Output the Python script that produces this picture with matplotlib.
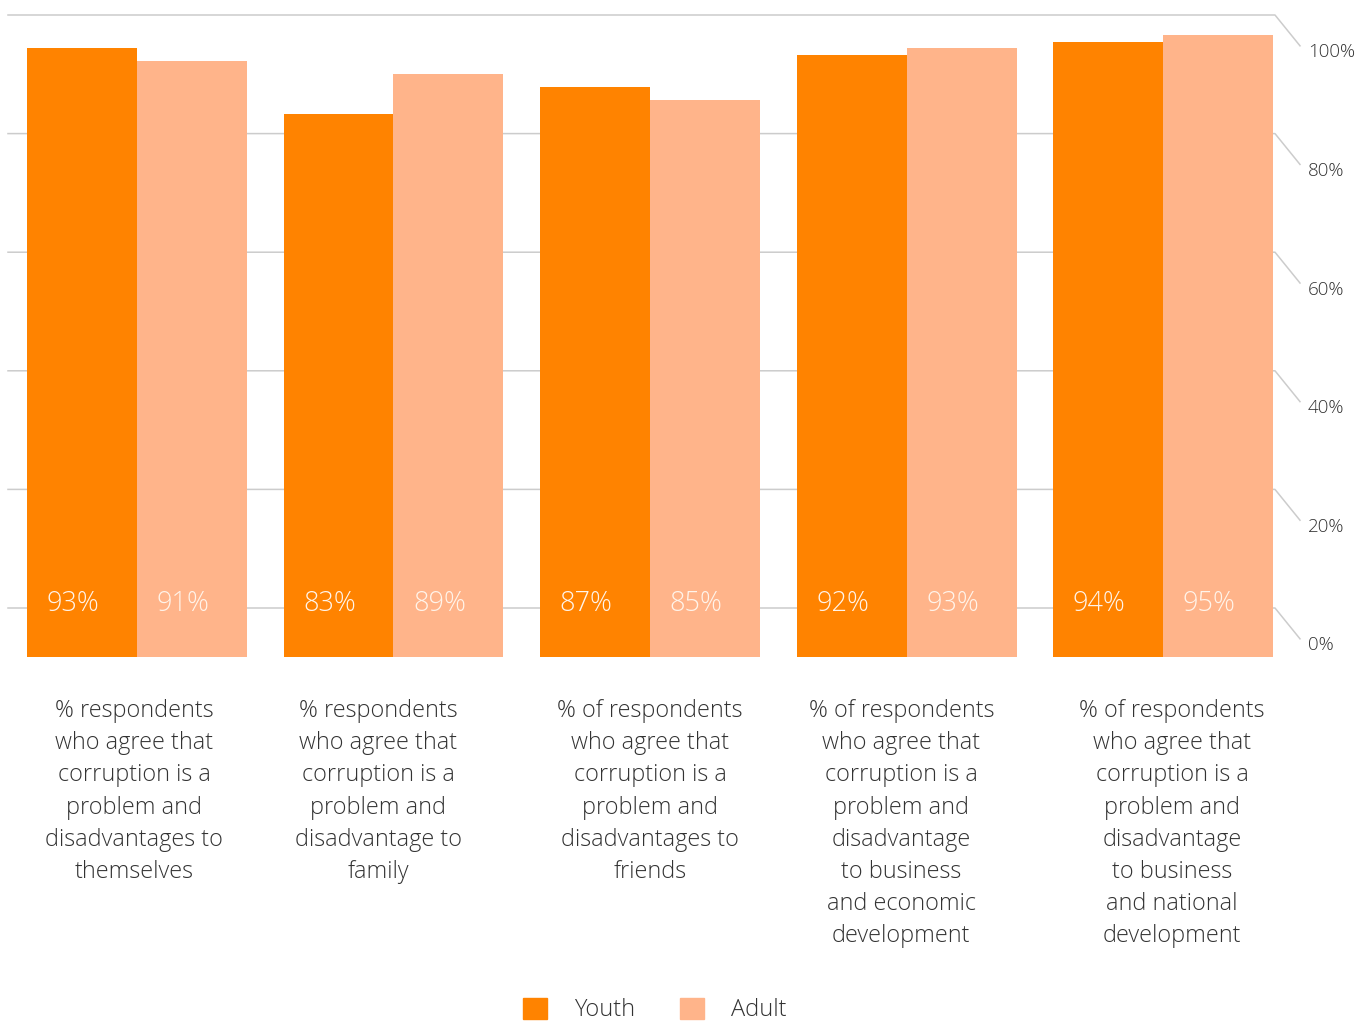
import matplotlib.pyplot as plt
import matplotlib.transforms as mtransforms
from matplotlib.patches import Patch
import numpy as np

my_dpi = 100
width = 1367
height = 1023

categories = ['% respondents\nwho agree that\ncorruption is a\nproblem and\ndisadvantages to\nthemselves',
              '% respondents\nwho agree that\ncorruption is a\nproblem and\ndisadvantage to\nfamily',
              '% of respondents\nwho agree that\ncorruption is a\nproblem and\ndisadvantages to\nfriends',
              '% of respondents\nwho agree that\ncorruption is a\nproblem and\ndisadvantage\nto business\nand economic\ndevelopment',
              '% of respondents\nwho agree that\ncorruption is a\nproblem and\ndisadvantage\nto business\nand national\ndevelopment']
youth = [93, 83, 87, 92, 94]
adult = [91, 89, 85, 93, 95]
gridTicks = [0, 20, 40, 60, 80, 100]

youthColor = '#ff8300'
adultColor = '#ffb48a'
textColor = '#333333'
fontFamily = ['Open Sans', 'DejaVu Sans']

def px(x0, y0, x1, y1):
    # pixel box (top-left origin) -> figure rect
    return [x0/width, 1 - y1/height, (x1-x0)/width, (y1-y0)/height]

fig = plt.figure(figsize=(width/my_dpi, height/my_dpi), dpi=my_dpi)

# background wall with the slanted gridlines
gax = fig.add_axes(px(8, 15, 1300, 608))
gax.set_xlim(0, 1)
gax.set_ylim(0, 100)
gax.axis('off')
flatEnd = (1275 - 8) / 1292
slantDx = 25 / 1292
slantDy = 5.2
for t in gridTicks:
    gax.plot([0, flatEnd, flatEnd + slantDx], [t, t, t - slantDy],
             color='#cccccc', lw=1.1, clip_on=False, zorder=0)
    gax.text(flatEnd + slantDx + 0.006, t - 6.3, '%d%%' % t, ha='left', va='center',
             fontsize=13.5, color=textColor, family=fontFamily, fontweight='light')

# bars
ax = fig.add_axes(px(8, 15, 1275, 657))
ax.patch.set_alpha(0)
x = np.arange(len(categories))
barW = 110 / 256.5
ax.bar(x - barW/2, youth, width=barW, color=youthColor, label='Youth', zorder=2)
ax.bar(x + barW/2, adult, width=barW, color=adultColor, label='Adult', zorder=2)
ax.set_xlim(-129 / 256.5, 1138 / 256.5)
ax.set_ylim(0, 95 * 642 / 622)
ax.axis('off')

labelY = (657 - 604) / 642 * ax.get_ylim()[1]
for i in range(len(categories)):
    ax.text(x[i] - barW/2 - 0.035, labelY, '%d%%' % youth[i], ha='center', va='center',
            fontsize=19.5, color='#fff4ea', family=fontFamily, fontweight='light', zorder=3)
    ax.text(x[i] + barW/2 - 0.035, labelY, '%d%%' % adult[i], ha='center', va='center',
            fontsize=19.5, color='#fff4ea', family=fontFamily, fontweight='light', zorder=3)

# category captions under each group
captionShift = [-0.01, -0.06, 0.0, -0.02, 0.035]
trans = mtransforms.blended_transform_factory(ax.transData, fig.transFigure)
for i, c in enumerate(categories):
    ax.text(x[i] + captionShift[i], 1 - 699/height, c, transform=trans, ha='center', va='top',
            fontsize=16.8, linespacing=1.455, color=textColor,
            family=fontFamily, fontweight='light')

handles = [Patch(color=youthColor, label='Youth'), Patch(color=adultColor, label='Adult')]
fig.legend(handles=handles, loc='center', bbox_to_anchor=(655/width, 1 - 1010/height),
           ncol=2, frameon=False, handlelength=1.0, handleheight=1.0, handletextpad=1.15,
           columnspacing=1.9, prop={'family': fontFamily, 'size': 17, 'weight': 'light'},
           labelcolor=textColor)

fig.savefig('out.png', dpi=my_dpi)
